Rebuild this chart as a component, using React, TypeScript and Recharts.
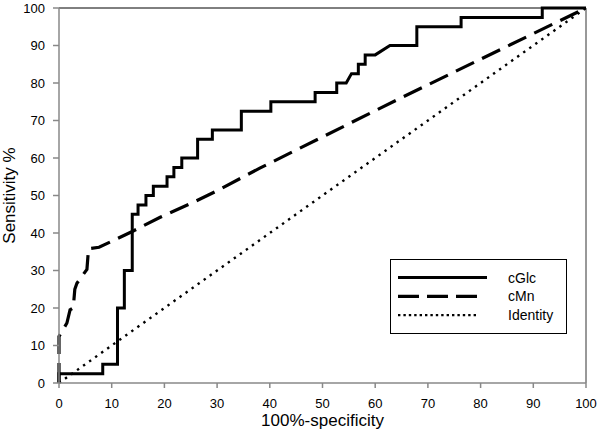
import { Label, Line, LineChart, ReferenceLine, XAxis, YAxis } from "recharts";

const FONT = "'Liberation Sans', Arial, sans-serif";

// ROC curves (x = 100%-specificity, y = sensitivity %)
const glcFpr = [
  0, 0, 8.3, 8.3, 11.1, 11.1, 12.4, 12.4, 13.9, 13.9, 15, 15, 16.5, 16.5, 17.9, 17.9, 20.5, 20.5,
  21.8, 21.8, 23.3, 23.3, 26.3, 26.3, 29.1, 29.1, 34.6, 34.6, 40.2, 40.2, 48.6, 48.6, 52.7, 52.7,
  54.5, 55.5, 56.8, 56.8, 58.1, 58.1, 60, 62.8, 67.9, 67.9, 76.3, 76.3, 91.7, 91.7, 100
];
const glcTpr = [
  0, 2.5, 2.5, 5, 5, 20, 20, 30, 30, 45, 45, 47.5, 47.5, 50, 50, 52.5, 52.5, 55, 55, 57.5, 57.5,
  60, 60, 65, 65, 67.5, 67.5, 72.5, 72.5, 75, 75, 77.5, 77.5, 80, 80, 82.5, 82.5, 85, 85, 87.5,
  87.5, 90, 90, 95, 95, 97.5, 97.5, 100, 100
];

const mnFpr = [0, 0, 1.5, 2.1, 2.7, 3.0, 3.4, 5.3, 5.6, 7.6, 13.9, 19.2, 25.2, 29.9, 38.1, 64.7, 100];
const mnTpr = [0, 12.4, 16, 19.5, 20, 25, 26.6, 30.3, 35.8, 36.2, 40.4, 44.2, 48, 51.2, 57.3, 75.9, 100];

const idFpr = [0, 100];
const idTpr = [0, 100];

const axisTicks = [0, 10, 20, 30, 40, 50, 60, 70, 80, 90, 100];

const zip = (xs: number[], ys: number[]) => xs.map((x, i) => ({ x, y: ys[i] }));

const SERIES = [
  { name: "cGlc", data: zip(glcFpr, glcTpr), width: 3, dash: undefined, legendDash: undefined },
  { name: "cMn", data: zip(mnFpr, mnTpr), width: 3.2, dash: "20 9", legendDash: "21 8" },
  { name: "Identity", data: zip(idFpr, idTpr), width: 2.4, dash: "2.4 5", legendDash: "2.4 3" }
];

// legend drawn as an overlay so the chart does not reserve room for it
function LegendBox() {
  return (
    <svg
      width={177}
      height={75}
      style={{ position: "absolute", left: 390, top: 259, display: "block" }}
    >
      <rect x={0.5} y={0.5} width={176} height={74} fill="#fff" stroke="#000" strokeWidth={1} />
      {SERIES.map((s, i) => {
        const cy = 18.5 + i * 18.8;
        return (
          <g key={s.name}>
            <line
              x1={8}
              x2={i === 0 ? 97 : 89}
              y1={cy}
              y2={cy}
              stroke="#000"
              strokeWidth={s.width}
              strokeDasharray={s.legendDash}
            />
            <text x={118} y={cy + 5} fontSize={14} fontFamily={FONT} fill="#000">
              {s.name}
            </text>
          </g>
        );
      })}
    </svg>
  );
}

export default function App() {
  return (
    <div style={{ position: "absolute", left: 0, top: 0, width: 600, height: 437, background: "#fff" }}>
      <LineChart width={600} height={437} margin={{ top: 8, right: 14, bottom: 9, left: 0 }}>
        <XAxis
          dataKey="x"
          type="number"
          domain={[0, 100]}
          ticks={axisTicks}
          interval={0}
          height={45}
          stroke="#888"
          strokeWidth={1.5}
          tickSize={5}
          tickMargin={11}
          tick={{ fill: "#000", fontSize: 13, fontFamily: FONT }}
        >
          <Label
            value="100%-specificity"
            position="insideBottom"
            offset={2}
            style={{ fontSize: 17, fontFamily: FONT, fill: "#000" }}
          />
        </XAxis>
        <YAxis
          dataKey="y"
          type="number"
          domain={[0, 100]}
          ticks={axisTicks}
          interval={0}
          width={59}
          stroke="#888"
          strokeWidth={1.5}
          tickSize={6}
          tickMargin={8}
          tick={{ fill: "#000", fontSize: 13, fontFamily: FONT }}
        >
          <Label
            value="Sensitivity %"
            angle={-90}
            position="insideLeft"
            offset={9}
            style={{ fontSize: 17, fontFamily: FONT, fill: "#000", textAnchor: "middle" }}
          />
        </YAxis>
        <ReferenceLine y={100} stroke="#000" strokeWidth={1} />
        <ReferenceLine x={100} stroke="#333" strokeWidth={1} />
        {SERIES.map((s) => (
          <Line
            key={s.name}
            name={s.name}
            data={s.data}
            dataKey="y"
            type="linear"
            stroke="#000"
            strokeWidth={s.width}
            strokeDasharray={s.dash}
            strokeLinejoin="miter"
            dot={false}
            activeDot={false}
            isAnimationActive={false}
          />
        ))}
      </LineChart>
      <LegendBox />
    </div>
  );
}
